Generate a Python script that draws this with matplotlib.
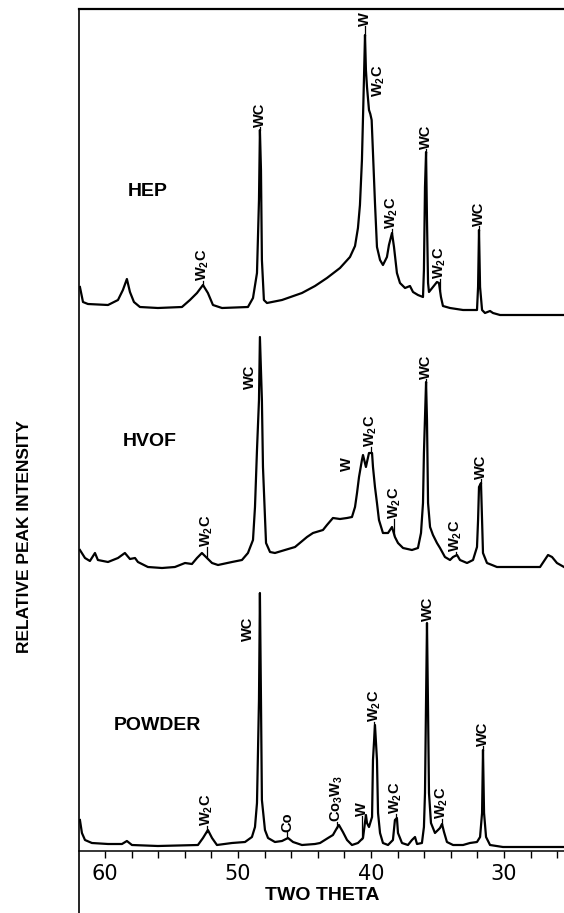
import matplotlib.pyplot as plt
import numpy as np

plt.rcParams['font.family'] = ['Liberation Sans', 'DejaVu Sans']
plt.rcParams['mathtext.fontset'] = 'custom'
plt.rcParams['mathtext.rm'] = 'Liberation Sans'
plt.rcParams['mathtext.bf'] = 'Liberation Sans:bold'

# two theta (deg) and intensity above each pattern's own baseline
hep_theta = [61.88, 61.65, 61.28, 59.77, 59.02, 58.65, 58.35, 58.12, 57.82, 57.37,
             56.02, 54.21, 53.61, 53.08, 52.63, 52.26, 51.88, 51.20, 49.25, 48.87,
             48.57, 48.42, 48.35, 48.27, 48.20, 48.05, 47.82, 46.69, 45.19, 44.21,
             43.31, 42.33, 41.58, 41.20, 40.98, 40.83, 40.68, 40.53, 40.45, 40.38,
             40.30, 40.15, 40.05, 39.95, 39.85, 39.70, 39.55, 39.32, 39.10, 38.80,
             38.65, 38.42, 38.27, 38.05, 37.82, 37.44, 37.07, 36.84, 36.47, 36.09,
             36.02, 35.94, 35.86, 35.79, 35.71, 35.64, 35.34, 35.04, 34.89, 34.74,
             34.59, 34.06, 33.08, 32.03, 31.95, 31.88, 31.80, 31.65, 31.43, 31.05,
             30.83, 30.30, 25.49]
hep_int = [23, 8, 6, 5, 10, 20, 31, 18, 8, 3,
           2, 3, 10, 17, 25, 17, 5, 2, 3, 12,
           37, 110, 180, 140, 50, 10, 7, 10, 17, 24,
           32, 42, 53, 64, 82, 105, 150, 230, 275, 240,
           223, 200, 196, 190, 157, 107, 63, 50, 45, 53,
           65, 77, 63, 37, 27, 22, 24, 18, 15, 13,
           40, 123, 158, 90, 27, 18, 23, 28, 27, 13,
           4, 2, 0, 0, 23, 80, 23, 0, -3, -1,
           -3, -5, -5]

hvof_theta = [61.88, 61.50, 61.13, 60.75, 60.53, 59.77, 59.02, 58.50, 58.12, 57.74,
              57.52, 56.77, 55.71, 54.74, 53.98, 53.46, 53.08, 52.71, 52.33, 51.95,
              51.50, 50.45, 49.70, 49.25, 48.87, 48.72, 48.57, 48.42, 48.35, 48.20,
              48.12, 47.97, 47.89, 47.59, 47.22, 46.47, 45.71, 44.81, 44.36, 43.61,
              43.31, 42.86, 42.33, 41.80, 41.43, 41.20, 41.05, 40.90, 40.68, 40.60,
              40.38, 40.30, 40.15, 39.92, 39.85, 39.70, 39.55, 39.40, 39.10, 38.72,
              38.42, 38.20, 37.97, 37.59, 36.92, 36.47, 36.24, 36.09, 36.02, 35.86,
              35.79, 35.71, 35.56, 35.34, 35.04, 34.81, 34.44, 34.06, 33.83, 33.53,
              33.31, 32.78, 32.33, 32.03, 31.95, 31.88, 31.73, 31.65, 31.58, 31.28,
              30.90, 30.53, 27.29, 26.69, 26.39, 26.02, 25.49]
hvof_int = [17, 9, 6, 14, 7, 5, 9, 14, 8, 9,
            5, 0, -1, 0, 4, 3, 9, 14, 9, 4,
            2, 5, 7, 14, 27, 60, 117, 167, 230, 167,
            100, 50, 24, 15, 14, 17, 20, 30, 34, 37,
            42, 49, 48, 49, 50, 60, 74, 90, 107, 112,
            100, 105, 114, 114, 100, 80, 64, 47, 34, 34,
            40, 30, 24, 19, 17, 19, 34, 64, 114, 185,
            147, 64, 40, 32, 24, 19, 10, 7, 10, 12,
            7, 4, 7, 20, 47, 80, 84, 47, 14, 4,
            2, 0, 0, 12, 10, 4, 0]

powder_theta = [61.88, 61.73, 61.50, 60.98, 59.77, 58.72, 58.35, 57.97, 56.02, 53.01,
                52.63, 52.26, 51.95, 51.58, 50.45, 49.47, 48.95, 48.72, 48.57, 48.42,
                48.35, 48.27, 48.20, 47.97, 47.74, 47.22, 46.69, 46.24, 45.86, 45.19,
                44.21, 43.83, 43.23, 42.86, 42.56, 42.41, 42.11, 41.80, 41.43, 40.98,
                40.60, 40.38, 40.30, 40.15, 39.92, 39.85, 39.70, 39.55, 39.47, 39.32,
                39.10, 38.72, 38.35, 38.20, 38.05, 37.97, 37.67, 37.22, 36.92, 36.69,
                36.54, 36.17, 36.02, 35.94, 35.86, 35.79, 35.71, 35.64, 35.49, 35.19,
                34.81, 34.66, 34.51, 34.29, 33.83, 33.08, 32.56, 32.03, 31.80, 31.65,
                31.58, 31.50, 31.35, 31.05, 30.08, 25.49]
powder_int = [27, 14, 7, 4, 3, 3, 6, 2, 1, 2,
              9, 17, 9, 2, 4, 5, 10, 20, 44, 147,
              254, 147, 47, 17, 9, 5, 6, 9, 5, 2,
              3, 4, 9, 12, 19, 22, 15, 7, 2, 4,
              9, 32, 24, 20, 30, 87, 122, 87, 34, 14,
              4, 2, 7, 27, 29, 14, 4, 2, 7, 10,
              3, 4, 20, 54, 147, 224, 137, 54, 24, 14,
              19, 23, 15, 5, 2, 2, 4, 5, 10, 34,
              97, 34, 10, 2, 0, 0]

trace_names = ["HEP", "HVOF", "POWDER"]
trace_offsets = [541, 284, 4]
name_theta = [56.77, 56.62, 56.09]
name_height = [119, 126, 122]

W2C = r"W$_\mathbf{2}$C"
hep_lbl = [W2C, "WC", "W", W2C, W2C, "WC", W2C, "WC"]
hep_lbl_theta = [52.63, 48.35, 40.45, 39.40, 38.42, 35.86, 34.81, 31.88]
hep_lbl_base = [28, 182, 283, 212, 80, 160, 30, 83]

hvof_lbl = [W2C, "WC", "W", W2C, W2C, "WC", W2C, "WC"]
hvof_lbl_theta = [52.33, 49.10, 41.80, 40.00, 38.25, 35.86, 33.60, 31.73]
hvof_lbl_base = [19, 177, 95, 119, 47, 187, 14, 87]

powder_lbl = [W2C, "WC", "Co", r"Co$_\mathbf{3}$W$_\mathbf{3}$", "W", W2C, W2C, "WC", W2C, "WC"]
powder_lbl_theta = [52.33, 49.25, 46.30, 42.56, 40.68, 39.75, 38.12, 35.71, 34.66, 31.58]
powder_lbl_base = [20, 205, 14, 24, 30, 124, 32, 225, 27, 100]

traces = [(hep_theta, hep_int, hep_lbl, hep_lbl_theta, hep_lbl_base),
          (hvof_theta, hvof_int, hvof_lbl, hvof_lbl_theta, hvof_lbl_base),
          (powder_theta, powder_int, powder_lbl, powder_lbl_theta, powder_lbl_base)]

fig = plt.figure(figsize=(5.64, 9.13), dpi=100)
ax = fig.add_axes([79 / 564, 0, 485 / 564, 904 / 913])

for i, (th, inten, lbl, lth, lbase) in enumerate(traces):
    off = trace_offsets[i]
    th = np.array(th)
    inten = np.array(inten)
    ax.plot(th, inten + off, color="black", lw=1.6, solid_joinstyle="round")
    for txt, t, b in zip(lbl, lth, lbase):
        ax.text(t, off + b + 1, txt, rotation=90, ha="center", va="bottom",
                fontsize=10.5, fontweight="bold")
        peak = np.interp(t, th[::-1], inten[::-1])
        if 0 < b - peak < 40:
            ax.plot([t, t], [off + peak, off + b + 1], color="black", lw=0.9)
    ax.text(name_theta[i], off + name_height[i], trace_names[i], ha="center",
            va="center", fontsize=14, fontweight="bold")

ax.set_xlim(61.95, 25.49)
ax.set_ylim(-62, 842)
ax.spines["right"].set_visible(False)
ax.spines["bottom"].set_position(("data", 0))
ax.spines["top"].set_linewidth(1.6)
ax.spines["left"].set_linewidth(1.2)
ax.spines["bottom"].set_linewidth(1.1)
ax.set_yticks([])
ax.set_xticks([60, 50, 40, 30])
ax.set_xticks(np.arange(26, 62, 2), minor=True)
ax.tick_params(axis="x", which="both", direction="out", length=5, width=1)
ax.tick_params(axis="x", which="major", labelsize=15, pad=4)
for lab in ax.get_xticklabels():
    lab.set_family("DejaVu Sans")

fig.text(322 / 564, 1 - 895 / 913, "TWO THETA", ha="center", va="center",
         fontsize=14, fontweight="bold")
fig.text(25 / 564, 1 - 537 / 913, "RELATIVE PEAK INTENSITY", rotation=90,
         ha="center", va="center", fontsize=12.5, fontweight="bold")

fig.savefig("out.png", dpi=100)
